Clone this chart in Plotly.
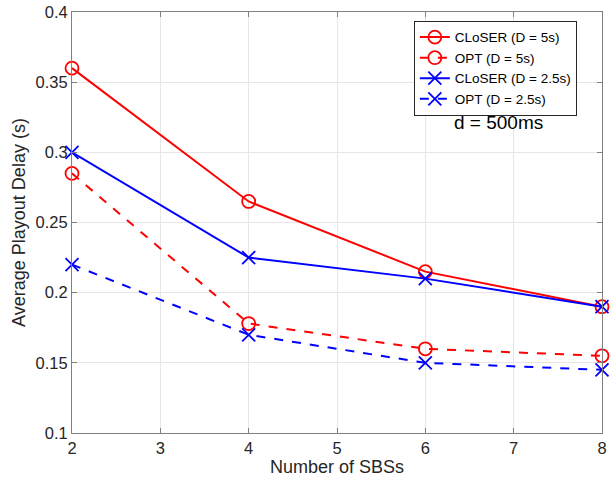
import plotly.graph_objects as go

# Number of small base stations
sbs = [2, 4, 6, 8]

# Average playout delay (s)
closer_5s = [0.36, 0.265, 0.215, 0.19]
opt_5s = [0.285, 0.178, 0.16, 0.155]
closer_25s = [0.30, 0.225, 0.21, 0.19]
opt_25s = [0.22, 0.17, 0.15, 0.145]

series = [
    ("CLoSER (D = 5s)", closer_5s, "#ff0000", "solid", "circle-open"),
    ("OPT (D = 5s)", opt_5s, "#ff0000", "dash", "circle-open"),
    ("CLoSER (D = 2.5s)", closer_25s, "#0000ff", "solid", "x-thin-open"),
    ("OPT (D = 2.5s)", opt_25s, "#0000ff", "dash", "x-thin-open"),
]

fig = go.Figure()
for name, vals, color, dash, symbol in series:
    fig.add_trace(go.Scatter(
        x=sbs, y=vals, name=name, mode="lines+markers",
        line=dict(color=color, width=2, dash=dash),
        marker=dict(symbol=symbol, size=13, color=color,
                    line=dict(color=color, width=1.8)),
        cliponaxis=False,
    ))

axis_common = dict(
    showline=True, linecolor="#808080", linewidth=1, mirror="ticks",
    ticks="inside", ticklen=5, tickcolor="#808080",
    showgrid=True, gridcolor="#e6e6e6", gridwidth=1, zeroline=False,
    tickfont=dict(size=16.5, color="#262626"),
    ticklabeloverflow="allow",
)

fig.update_layout(
    width=610, height=480,
    margin=dict(l=72, r=3, t=11, b=47),
    paper_bgcolor="white", plot_bgcolor="white",
    font=dict(family="Liberation Sans, Arial, sans-serif", color="#262626"),
    xaxis=dict(range=[2, 8], dtick=1,
               title=dict(text="Number of SBSs", font=dict(size=18), standoff=2),
               **axis_common),
    yaxis=dict(range=[0.1, 0.4], dtick=0.05, tickformat="~g",
               title=dict(text="Average Playout Delay (s)", font=dict(size=18), standoff=5),
               **axis_common),
    legend=dict(x=0.645, y=0.979, xanchor="left", yanchor="top",
                bgcolor="white", bordercolor="#262626", borderwidth=1,
                font=dict(size=13.5, color="#000000"),
                itemwidth=30, tracegroupgap=0),
    showlegend=True,
    annotations=[dict(text="d = 500ms", x=0.804, y=0.738, xref="paper", yref="paper",
                      xanchor="center", yanchor="middle", showarrow=False,
                      font=dict(size=19, color="#000000"))],
)

fig.write_html("out.html")
